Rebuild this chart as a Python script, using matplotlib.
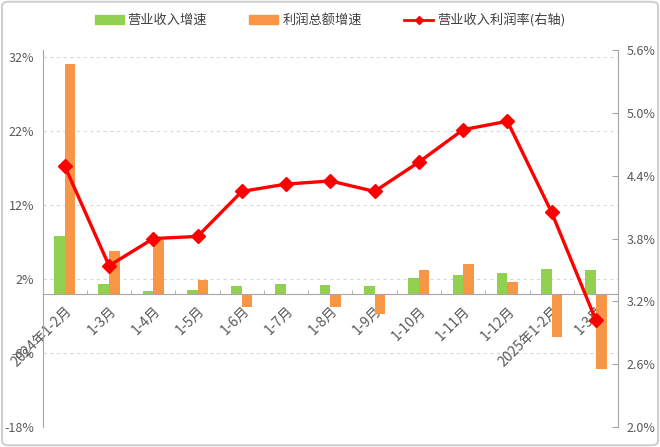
import matplotlib
matplotlib.use("Agg")
import matplotlib.pyplot as plt
import matplotlib.patches as mpatches
import matplotlib.transforms as mtransforms
from matplotlib.lines import Line2D
import numpy as np

plt.rcParams["font.family"] = ["Noto Sans CJK SC", "DejaVu Sans"]
plt.rcParams["axes.unicode_minus"] = False

# data
categories = ["2024年1-2月", "1-3月", "1-4月", "1-5月", "1-6月", "1-7月", "1-8月",
              "1-9月", "1-10月", "1-11月", "1-12月", "2025年1-2月", "1-3月"]
revenue_growth = [7.9, 1.4, 0.4, 0.6, 1.1, 1.3, 1.2, 1.1, 2.1, 2.6, 2.85, 3.4, 3.3]
profit_growth = [31.1, 5.8, 7.3, 1.85, -1.75, -0.2, -1.75, -2.65, 3.2, 4.0, 1.6, -5.8, -10.1]
profit_margin = [4.49, 3.54, 3.80, 3.82, 4.25, 4.32, 4.35, 4.25, 4.53, 4.84, 4.92, 4.05, 3.02]

left_ticks = [32, 22, 12, 2, -8, -18]
right_ticks = [5.6, 5.0, 4.4, 3.8, 3.2, 2.6, 2.0]

GREEN = "#92d050"
ORANGE = "#f79646"
RED = "#ff0000"
GREY = "#595959"
AXIS = "#a6a6a6"

fig = plt.figure(figsize=(6.6, 4.47), dpi=100)
ax = fig.add_axes([0.0647, 0.0447, 0.8717, 0.8433])
x = np.arange(len(categories))
w = 0.24

ax.bar(x - w / 2, revenue_growth, width=w, color=GREEN, zorder=3)
ax.bar(x + w / 2, profit_growth, width=w, color=ORANGE, zorder=3)

ax.set_ylim(-18, 33)
ax.set_yticks(left_ticks)
ax.set_yticklabels([f"{t}%" for t in left_ticks])
ax.set_xlim(-0.5, len(categories) - 0.5)
for t in left_ticks:
    ax.axhline(t, color="#d9d9d9", linestyle=(0, (3, 3)), linewidth=0.8, zorder=1)

ax.spines["top"].set_visible(False)
ax.spines["right"].set_visible(False)
ax.spines["left"].set_color(AXIS)
ax.spines["bottom"].set_color(AXIS)
ax.spines["bottom"].set_position(("data", 0))
ax.spines["bottom"].set_zorder(4)

ax.set_xticks(x)
ax.set_xticklabels(categories, rotation=45, ha="right", va="top",
                   rotation_mode="anchor")
shift = mtransforms.ScaledTranslation(5 / 100, 0, fig.dpi_scale_trans)
for lab in ax.get_xticklabels():
    lab.set_transform(lab.get_transform() + shift)
ax.set_xticks(np.arange(len(categories) + 1) - 0.5, minor=True)
ax.tick_params(axis="x", which="major", length=0, pad=7, labelsize=10,
               labelcolor=GREY)
ax.tick_params(axis="x", which="minor", length=3, color=AXIS, direction="in")
ax.tick_params(axis="y", length=0, labelsize=9, labelcolor=GREY, pad=6)

ax2 = ax.twinx()
ax2.plot(x, profit_margin, color=RED, linewidth=2.4, marker="D", markersize=7,
         zorder=5)
ax2.set_ylim(2.0, 5.6)
ax2.set_yticks(right_ticks)
ax2.set_yticklabels([f"{t:.1f}%" for t in right_ticks])
ax2.spines["top"].set_visible(False)
ax2.spines["left"].set_visible(False)
ax2.spines["bottom"].set_visible(False)
ax2.spines["right"].set_color(AXIS)
ax2.tick_params(axis="y", direction="in", length=4, color=AXIS,
                labelsize=9, labelcolor=GREY, pad=6)

handles = [
    mpatches.Patch(color=GREEN, label="营业收入增速"),
    mpatches.Patch(color=ORANGE, label="利润总额增速"),
    Line2D([0], [0], color=RED, linewidth=2, marker="D", markersize=4,
           label="营业收入利润率(右轴)"),
]
fig.legend(handles=handles, loc="center", bbox_to_anchor=(0.5, 0.955), ncol=3,
           frameon=False, fontsize=9.5, handlelength=2.2, handleheight=0.6,
           columnspacing=3.2, handletextpad=0.3, labelcolor="#404040")

fig.patches.append(mpatches.FancyBboxPatch(
    (0.003, 0.004), 0.994, 0.992, boxstyle="round,pad=0,rounding_size=0.01",
    transform=fig.transFigure, fill=False, edgecolor="#d0d0d0", linewidth=1.5))

fig.savefig("out.png", dpi=100)
